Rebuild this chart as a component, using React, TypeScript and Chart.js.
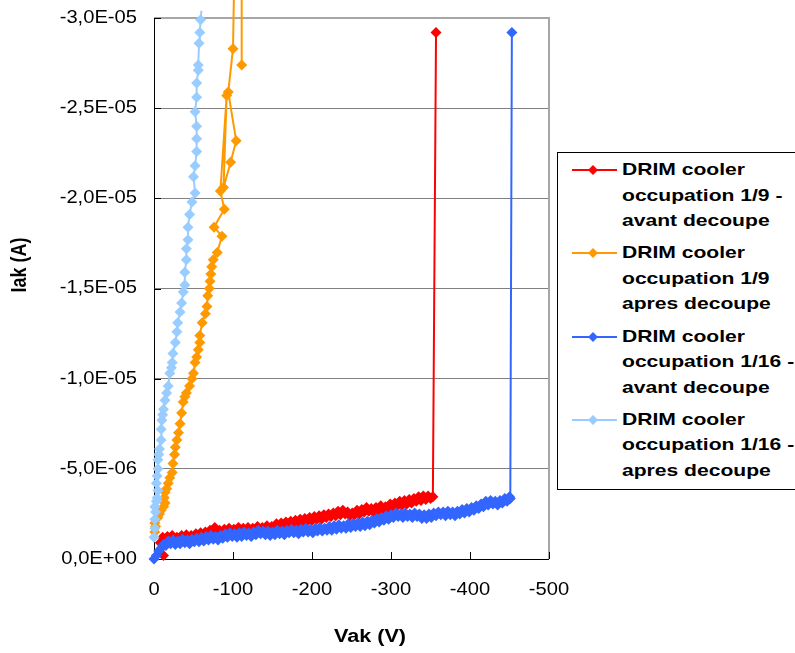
import React, { useEffect, useRef } from "react";
import { Chart, registerables } from "chart.js";

Chart.register(...registerables);

// ---------- data ----------
const seriesNames = [
  ["DRIM cooler", "occupation 1/9 -", "avant decoupe"],
  ["DRIM cooler", "occupation 1/9", "apres decoupe"],
  ["DRIM cooler", "occupation 1/16 -", "avant decoupe"],
  ["DRIM cooler", "occupation 1/16 -", "apres decoupe"],
];
const seriesColors = ["#FF0000", "#FF9900", "#3366FF", "#99CCFF"];

// Vak (V) and Iak (µA) per series
const redV = [-12, -8, -11, -14, -17, -20, -23, -26, -29, -32, -35, -38, -41, -44, -47, -50, -53, -56, -59, -62, -65, -68, -71, -74, -77, -80, -83, -86, -89, -92, -95, -98, -101, -104, -107, -110, -113, -116, -119, -122, -125, -128, -131, -134, -137, -140, -143, -146, -149, -152, -155, -158, -161, -164, -167, -170, -173, -176, -179, -182, -185, -188, -191, -194, -197, -200, -203, -206, -209, -212, -215, -218, -221, -224, -227, -230, -233, -236, -239, -242, -245, -248, -251, -254, -257, -260, -263, -266, -269, -272, -275, -278, -281, -284, -287, -290, -293, -296, -299, -302, -305, -308, -311, -314, -317, -320, -323, -326, -329, -332, -335, -338, -341, -344, -347, -350, -353, -357];
const redI = [-0.2, -0.9, -1.2, -0.95, -1.25, -1.05, -1.3, -1.1, -1.2, -1.0, -1.3, -1.15, -1.35, -1.1, -1.3, -1.2, -1.4, -1.25, -1.45, -1.3, -1.5, -1.35, -1.6, -1.45, -1.75, -1.5, -1.6, -1.4, -1.65, -1.5, -1.7, -1.45, -1.65, -1.55, -1.75, -1.5, -1.7, -1.55, -1.75, -1.5, -1.7, -1.6, -1.8, -1.55, -1.75, -1.6, -1.85, -1.65, -1.8, -1.7, -1.95, -1.8, -2.0, -1.85, -2.05, -1.9, -2.1, -1.95, -2.15, -2.0, -2.2, -2.05, -2.25, -2.1, -2.3, -2.15, -2.35, -2.2, -2.4, -2.2, -2.45, -2.3, -2.5, -2.35, -2.55, -2.4, -2.65, -2.45, -2.7, -2.5, -2.6, -2.4, -2.55, -2.45, -2.7, -2.5, -2.75, -2.6, -2.85, -2.65, -2.8, -2.6, -2.85, -2.7, -2.95, -2.75, -2.9, -2.8, -3.05, -2.85, -3.1, -2.95, -3.2, -3.0, -3.25, -3.05, -3.3, -3.1, -3.35, -3.2, -3.45, -3.25, -3.5, -3.3, -3.5, -3.35, -3.45, -29.2];

const orangeV = [-1, -2, -1, -5, -7, -9, -12, -14, -13, -14, -16, -18, -20, -23, -24, -26, -27, -29, -31, -33, -35, -37, -39, -41, -45, -48, -50, -52, -54, -56, -58, -58, -61, -65, -67, -68, -70, -71, -72, -73, -75, -80, -86, -76, -89, -84, -92, -88, -97, -104, -94, -100, -103, -111, -111];
const orangeI = [-1.5, -1.8, -2.0, -2.3, -2.5, -2.7, -2.9, -3.1, -3.4, -3.7, -3.9, -4.2, -4.5, -4.8, -5.3, -5.8, -6.2, -6.6, -7.0, -7.5, -8.1, -8.7, -9.0, -9.2, -9.6, -10.0, -10.3, -10.9, -11.2, -11.6, -12.0, -12.4, -13.1, -13.6, -14.0, -14.6, -15.0, -15.4, -15.8, -16.2, -16.6, -17.0, -17.9, -18.4, -19.4, -20.4, -25.7, -20.6, -22.0, -23.2, -25.9, -28.3, -36.0, -36.0, -27.4];

const blueV = [0, -3, -6, -9, -12, -15, -18, -21, -24, -27, -30, -33, -36, -39, -42, -45, -48, -51, -54, -57, -60, -63, -66, -69, -72, -75, -78, -81, -84, -87, -90, -93, -96, -99, -102, -105, -108, -111, -114, -117, -120, -123, -126, -129, -132, -135, -138, -141, -144, -147, -150, -153, -156, -159, -162, -165, -168, -171, -174, -177, -180, -183, -186, -189, -192, -195, -198, -201, -204, -207, -210, -213, -216, -219, -222, -225, -228, -231, -234, -237, -240, -243, -246, -249, -252, -255, -258, -261, -264, -267, -270, -273, -276, -279, -282, -285, -288, -291, -294, -297, -300, -303, -306, -309, -312, -315, -318, -321, -324, -327, -330, -333, -336, -339, -342, -345, -348, -351, -354, -357, -360, -363, -366, -369, -372, -375, -378, -381, -384, -387, -390, -393, -396, -399, -402, -405, -408, -411, -414, -417, -420, -423, -426, -429, -432, -435, -438, -441, -444, -447, -450, -451, -453];
const blueI = [0, -0.2, -0.45, -0.6, -0.8, -0.75, -1.0, -0.85, -1.05, -0.8, -1.0, -0.85, -1.1, -0.9, -1.05, -0.85, -1.1, -0.95, -1.15, -0.95, -1.2, -1.0, -1.25, -1.05, -1.3, -1.1, -1.25, -1.05, -1.3, -1.15, -1.4, -1.2, -1.45, -1.25, -1.4, -1.2, -1.45, -1.25, -1.5, -1.3, -1.45, -1.25, -1.5, -1.35, -1.6, -1.4, -1.55, -1.35, -1.55, -1.3, -1.5, -1.35, -1.6, -1.4, -1.55, -1.35, -1.6, -1.45, -1.65, -1.45, -1.6, -1.4, -1.65, -1.5, -1.7, -1.5, -1.65, -1.45, -1.7, -1.55, -1.75, -1.55, -1.7, -1.6, -1.8, -1.6, -1.85, -1.65, -1.9, -1.7, -1.85, -1.7, -1.95, -1.75, -1.95, -1.8, -2.0, -1.8, -2.05, -1.85, -2.1, -1.9, -2.15, -2.0, -2.25, -2.05, -2.3, -2.15, -2.4, -2.2, -2.45, -2.3, -2.55, -2.35, -2.5, -2.3, -2.55, -2.35, -2.5, -2.3, -2.55, -2.35, -2.5, -2.25, -2.45, -2.25, -2.5, -2.3, -2.55, -2.4, -2.6, -2.45, -2.6, -2.4, -2.65, -2.45, -2.6, -2.4, -2.65, -2.5, -2.75, -2.55, -2.8, -2.6, -2.85, -2.7, -2.95, -2.8, -3.05, -2.9, -3.2, -3.0, -3.25, -3.05, -3.2, -3.0, -3.25, -3.1, -3.35, -3.2, -3.45, -3.35, -29.2];

const lightV = [0, -1, -1, -2, -1, -3, -4, -5, -3, -4, -5, -5, -6, -7, -9, -9, -10, -11, -12, -14, -16, -18, -20, -22, -23, -24, -27, -29, -30, -33, -35, -37, -39, -39, -41, -41, -43, -43, -45, -48, -52, -50, -52, -54, -54, -54, -52, -54, -54, -56, -56, -57, -58, -59, -60];
const lightI = [-1.2, -1.7, -2.2, -2.6, -2.9, -3.2, -3.4, -3.8, -4.2, -4.6, -5.0, -5.5, -5.8, -6.1, -6.6, -7.2, -7.7, -8.0, -8.3, -8.8, -9.2, -9.6, -10.3, -10.6, -10.9, -11.4, -12.0, -12.6, -13.1, -13.7, -14.2, -14.8, -15.2, -15.9, -16.6, -17.2, -17.7, -18.4, -19.1, -19.8, -20.3, -21.2, -21.8, -22.6, -23.3, -24.0, -24.8, -25.6, -26.4, -27.1, -27.4, -28.6, -29.2, -29.9, -30.4];

const xTicks = [0, -100, -200, -300, -400, -500];
const xTickLabels = ["0", "-100", "-200", "-300", "-400", "-500"];
const yTicks = [0, -5e-6, -1e-5, -1.5e-5, -2e-5, -2.5e-5, -3e-5];
const yTickLabels = ["0,0E+00", "-5,0E-06", "-1,0E-05", "-1,5E-05", "-2,0E-05", "-2,5E-05", "-3,0E-05"];
const xTitle = "Vak (V)";
const yTitle = "Iak (A)";

const FONT = "'Liberation Sans', Arial, Helvetica, sans-serif";

const toPoints = (vs: number[], is: number[]) => vs.map((v, k) => ({ x: v, y: is[k] * 1e-6 }));

function stretchedText(ctx: CanvasRenderingContext2D, text: string, x: number, y: number, align: CanvasTextAlign, font: string, sx: number) {
  ctx.save();
  ctx.translate(x, y);
  ctx.scale(sx, 1);
  ctx.font = font;
  ctx.fillStyle = "#000";
  ctx.textAlign = align;
  ctx.textBaseline = "middle";
  ctx.fillText(text, 0, 0);
  ctx.restore();
}

const overlayPlugin = {
  id: "excelOverlay",
  beforeDatasetsDraw(chart: any) {
    const { ctx, chartArea: a, scales } = chart;
    ctx.save();
    ctx.strokeStyle = "#A6A6A6";
    ctx.lineWidth = 2;
    ctx.beginPath();
    ctx.moveTo(a.left, a.top);
    ctx.lineTo(a.right, a.top);
    ctx.lineTo(a.right, a.bottom);
    ctx.stroke();
    ctx.strokeStyle = "#000";
    ctx.lineWidth = 1;
    ctx.beginPath();
    ctx.moveTo(a.left + 0.5, a.top);
    ctx.lineTo(a.left + 0.5, a.bottom + 0.5);
    ctx.lineTo(a.right, a.bottom + 0.5);
    ctx.stroke();
    ctx.beginPath();
    yTicks.forEach((v) => {
      const p = Math.round(scales.y.getPixelForValue(v)) + 0.5;
      ctx.moveTo(a.left, p);
      ctx.lineTo(a.left + 7, p);
    });
    xTicks.forEach((v) => {
      const p = Math.round(scales.x.getPixelForValue(v)) + 0.5;
      ctx.moveTo(p, a.bottom);
      ctx.lineTo(p, a.bottom - 7);
    });
    ctx.stroke();
    ctx.restore();
  },
  afterDraw(chart: any) {
    const { ctx, chartArea: a, scales } = chart;
    const tickFont = `18px ${FONT}`;
    yTicks.forEach((v, k) => {
      stretchedText(ctx, yTickLabels[k], a.left - 17, scales.y.getPixelForValue(v), "right", tickFont, 1.12);
    });
    xTicks.forEach((v, k) => {
      stretchedText(ctx, xTickLabels[k], scales.x.getPixelForValue(v), a.bottom + 31, "center", tickFont, 1.12);
    });
    const titleFont = `bold 18px ${FONT}`;
    stretchedText(ctx, xTitle, a.left + 216, a.bottom + 78, "center", titleFont, 1.2);
    ctx.save();
    ctx.translate(20, a.top + 247);
    ctx.rotate(-Math.PI / 2);
    ctx.scale(1, 1.2);
    ctx.font = titleFont;
    ctx.fillStyle = "#000";
    ctx.textAlign = "center";
    ctx.textBaseline = "middle";
    ctx.fillText(yTitle, 0, 0);
    ctx.restore();
  },
};

export default function App() {
  const ref = useRef<HTMLCanvasElement | null>(null);

  useEffect(() => {
    if (!ref.current) return;
    const series = [
      toPoints(redV, redI),
      toPoints(orangeV, orangeI),
      toPoints(blueV, blueI),
      toPoints(lightV, lightI),
    ];
    const chart = new Chart(ref.current, {
      type: "scatter",
      data: {
        datasets: series.map((pts, k) => ({
          label: seriesNames[k].join(" "),
          data: pts,
          showLine: true,
          borderColor: seriesColors[k],
          backgroundColor: seriesColors[k],
          borderWidth: 2,
          pointStyle: "rectRot",
          pointRadius: 5.5,
          pointBorderWidth: 0,
          pointHoverRadius: 5.5,
          tension: 0,
          clip: false,
          order: 3 - k,
        })),
      },
      options: {
        animation: false,
        responsive: false,
        events: [],
        layout: { padding: { top: 18, right: 246, bottom: 0, left: 0 } },
        plugins: { legend: { display: false }, tooltip: { enabled: false } },
        scales: {
          x: {
            type: "linear",
            min: -500,
            max: 0,
            reverse: true,
            afterBuildTicks: (s: any) => {
              s.ticks = xTicks.map((v) => ({ value: v }));
            },
            afterFit: (s: any) => {
              s.height = 94;
            },
            ticks: { display: false },
            grid: { display: false, drawTicks: false },
            border: { display: false },
          },
          y: {
            type: "linear",
            min: -3e-5,
            max: 0,
            reverse: true,
            afterBuildTicks: (s: any) => {
              s.ticks = yTicks.map((v) => ({ value: v }));
            },
            afterFit: (s: any) => {
              s.width = 154;
            },
            ticks: { display: false },
            grid: { display: true, drawTicks: false, color: "#808080", lineWidth: 1 },
            border: { display: false },
          },
        },
      },
      plugins: [overlayPlugin],
    });
    return () => chart.destroy();
  }, []);

  const entryTop = (k: number) => 157 + k * 83.3;

  return (
    <div style={{ position: "absolute", left: 0, top: 0, width: 795, height: 653, overflow: "hidden", background: "#fff" }}>
      <canvas ref={ref} width={795} height={653} style={{ display: "block", width: 795, height: 653 }} />
      <div
        style={{
          position: "absolute",
          left: 557,
          top: 152,
          width: 250,
          height: 338,
          border: "1px solid #000",
          boxSizing: "border-box",
          background: "#fff",
        }}
      />
      {seriesNames.map((lines, k) => (
        <React.Fragment key={k}>
          <svg width={52} height={26} style={{ position: "absolute", left: 568, top: entryTop(k) }}>
            <line x1={4} y1={13} x2={49} y2={13} stroke={seriesColors[k]} strokeWidth={2} />
            <polygon points="25,8 30,13 25,18 20,13" fill={seriesColors[k]} />
          </svg>
          <div
            style={{
              position: "absolute",
              left: 622,
              top: entryTop(k),
              fontFamily: FONT,
              fontWeight: "bold",
              fontSize: 17,
              lineHeight: "25.5px",
              color: "#000",
              whiteSpace: "nowrap",
              transform: "scaleX(1.24)",
              transformOrigin: "left top",
            }}
          >
            {lines.map((t, j) => (
              <div key={j}>{t}</div>
            ))}
          </div>
        </React.Fragment>
      ))}
    </div>
  );
}
